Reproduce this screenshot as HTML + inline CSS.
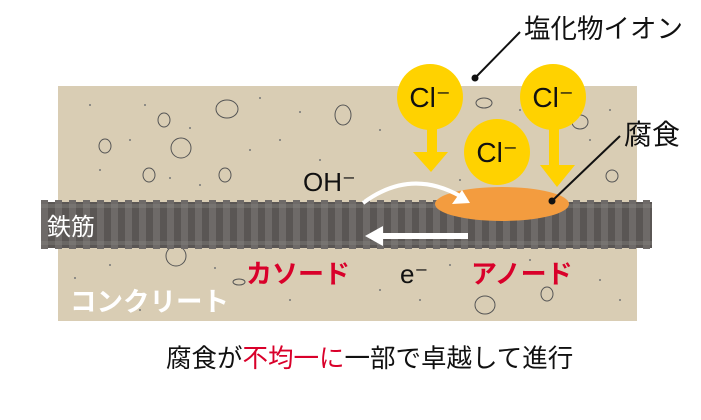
<!DOCTYPE html>
<html><head><meta charset="utf-8"><style>
html,body{margin:0;padding:0;background:#fff;}
svg{display:block;}
text{font-family:"Liberation Sans","Noto Sans CJK JP",sans-serif;}
</style></head><body>
<svg width="701" height="420" viewBox="0 0 701 420" xmlns="http://www.w3.org/2000/svg">
<rect x="58" y="86" width="579" height="235" fill="#d9cdb4"/>
<g fill="none" stroke="#555" stroke-width="1">
<ellipse cx="227" cy="109" rx="11" ry="9"/>
<ellipse cx="164" cy="120" rx="6" ry="7"/>
<ellipse cx="181" cy="148" rx="10" ry="10"/>
<ellipse cx="105" cy="146" rx="6" ry="7"/>
<ellipse cx="149" cy="175" rx="6" ry="7"/>
<ellipse cx="225" cy="175" rx="6" ry="7"/>
<ellipse cx="343" cy="115" rx="8" ry="10"/>
<ellipse cx="176" cy="256" rx="10" ry="10"/>
<ellipse cx="239" cy="282" rx="6" ry="3"/>
<ellipse cx="484" cy="103" rx="8" ry="5"/>
<ellipse cx="580" cy="122" rx="8" ry="7"/>
<ellipse cx="612" cy="176" rx="6" ry="6"/>
<ellipse cx="485" cy="305" rx="10" ry="9"/>
<ellipse cx="547" cy="294" rx="6" ry="7"/>
</g>
<g fill="#777">
<circle cx="90" cy="105" r="1"/><circle cx="145" cy="105" r="1"/><circle cx="260" cy="98" r="1"/><circle cx="300" cy="112" r="1"/>
<circle cx="130" cy="140" r="1"/><circle cx="190" cy="128" r="1"/><circle cx="250" cy="150" r="1"/><circle cx="280" cy="140" r="1"/>
<circle cx="100" cy="170" r="1"/><circle cx="170" cy="178" r="1"/><circle cx="200" cy="185" r="1"/><circle cx="320" cy="160" r="1"/>
<circle cx="110" cy="265" r="1"/><circle cx="75" cy="278" r="1"/><circle cx="215" cy="268" r="1"/><circle cx="290" cy="300" r="1"/>
<circle cx="380" cy="290" r="1"/><circle cx="420" cy="300" r="1"/><circle cx="450" cy="265" r="1"/><circle cx="530" cy="260" r="1"/>
<circle cx="600" cy="280" r="1"/><circle cx="620" cy="300" r="1"/><circle cx="590" cy="140" r="1"/><circle cx="610" cy="110" r="1"/>
<circle cx="520" cy="110" r="1"/><circle cx="460" cy="180" r="1"/><circle cx="380" cy="130" r="1"/><circle cx="140" cy="310" r="1"/>
</g>
<rect x="41" y="202" width="611" height="46" fill="#5a5654"/>
<g fill="#6e6a68" id="ribs"></g>
<rect x="41" y="204" width="611" height="4" fill="#8a8684" opacity="0.35"/>
<rect x="41" y="241" width="611" height="4" fill="#8a8684" opacity="0.35"/>
<ellipse cx="502" cy="204" rx="67" ry="17" fill="#f39c3f"/>
<text x="47" y="235" font-size="24" fill="#fff">鉄筋</text>
<path d="M363 203 Q410 168 460 196" fill="none" stroke="#fff" stroke-width="4"/>
<polygon points="470,203 452,204 462,190" fill="#fff"/>
<rect x="380" y="233" width="88" height="6" fill="#fff"/>
<polygon points="365,236 383,226 383,246" fill="#fff"/>
<line x1="475" y1="78" x2="520" y2="32" stroke="#111" stroke-width="2"/>
<circle cx="475" cy="78" r="3.5" fill="#111"/>
<text x="524" y="38" font-size="26.5" fill="#111">塩化物イオン</text>
<g fill="#ffd200">
<rect x="427" y="125" width="10" height="30"/><polygon points="413,152 448,152 431,172"/>
<rect x="549" y="125" width="10" height="42"/><polygon points="540,165 575,165 557,187"/>
<circle cx="430" cy="97" r="33"/><circle cx="553" cy="97" r="33"/><circle cx="497" cy="152" r="33"/>
</g>
<g font-size="28" fill="#111" text-anchor="middle">
<text x="430" y="107">Cl⁻</text><text x="553" y="107">Cl⁻</text><text x="497" y="162">Cl⁻</text>
</g>
<line x1="552" y1="201" x2="620" y2="136" stroke="#111" stroke-width="2"/>
<circle cx="552" cy="201" r="3.5" fill="#111"/>
<text x="624" y="144" font-size="28" fill="#111">腐食</text>
<text x="303" y="191" font-size="26" fill="#111">OH⁻</text>
<text x="246" y="283" font-size="26" font-weight="bold" fill="#d9002a">カソード</text>
<text x="400" y="283" font-size="26" fill="#111">e⁻</text>
<text x="471" y="283" font-size="26" font-weight="bold" fill="#d9002a">アノード</text>
<text x="70" y="311" font-size="26.5" font-weight="bold" fill="#fff">コンクリート</text>
<text x="166" y="367" font-size="25.5" fill="#111">腐食が<tspan fill="#d9002a">不均一に</tspan>一部で卓越して進行</text>
</svg>
<script>
var g=document.getElementById('ribs');
for(var x=41;x<652;x+=14){var r=document.createElementNS('http://www.w3.org/2000/svg','rect');r.setAttribute('x',x);r.setAttribute('y',200);r.setAttribute('width',7);r.setAttribute('height',49);g.appendChild(r);}
</script>
</body></html>
